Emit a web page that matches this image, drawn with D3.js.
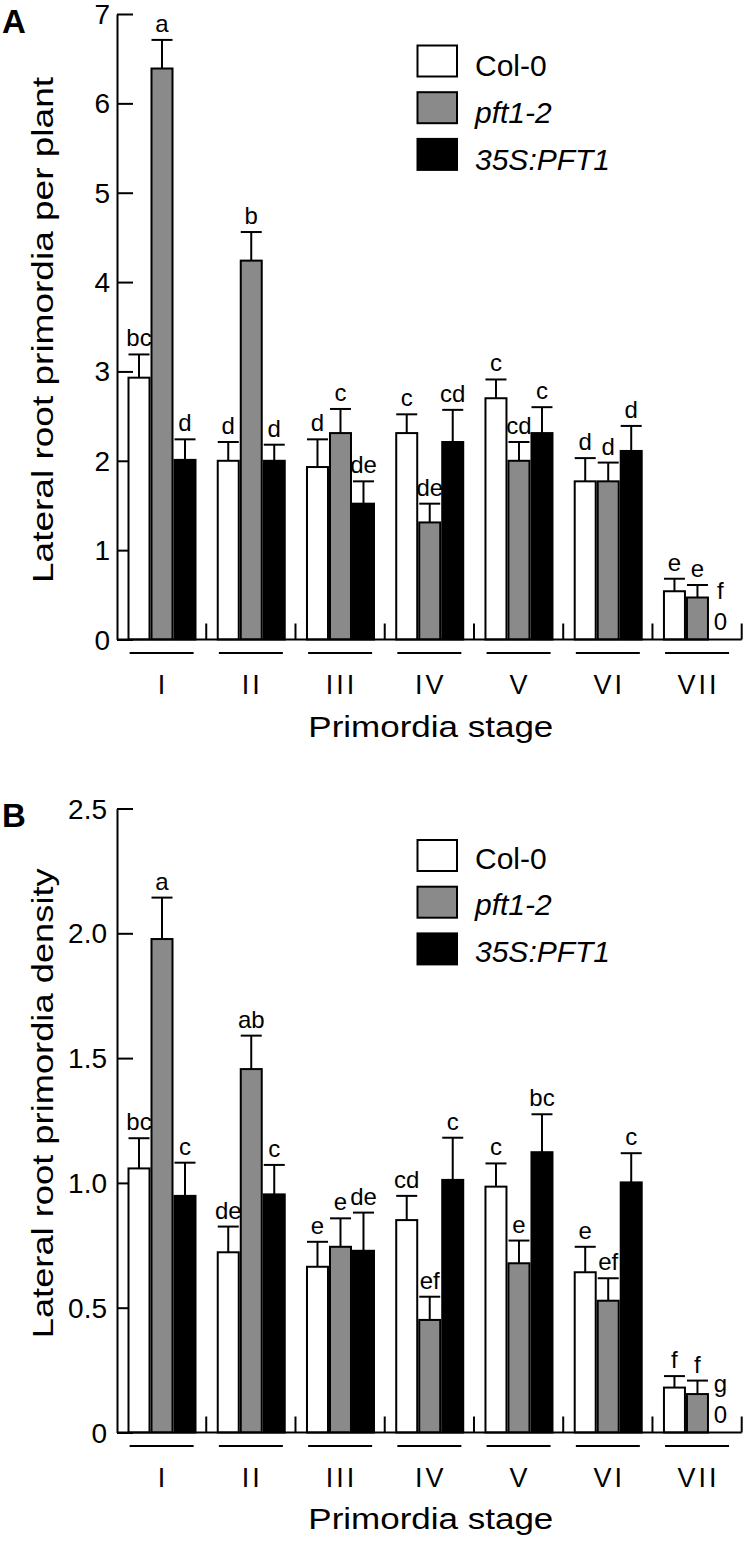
<!DOCTYPE html>
<html>
<head>
<meta charset="utf-8">
<script src="https://cdn.jsdelivr.net/npm/d3@7"></script>
<style>
  html, body { margin: 0; padding: 0; background: #fff; }
  svg { display: block; font-family: "Liberation Sans", Arial, Helvetica, sans-serif; }
</style>
</head>
<body>
<svg id="chart" width="747" height="1544"></svg>
<script>
// ---------- DATA ----------
const stages = ["I", "II", "III", "IV", "V", "VI", "VII"];
const series = ["Col-0", "pft1-2", "35S:PFT1"];

// Panel A: lateral root primordia per plant
const colA    = [2.93, 2.00, 1.93, 2.31, 2.70, 1.77, 0.54];
const pftA    = [6.39, 4.24, 2.31, 1.31, 2.00, 1.77, 0.47];
const ovxA    = [2.01, 2.00, 1.52, 2.21, 2.31, 2.11, 0];
const colErrA = [0.26, 0.21, 0.31, 0.21, 0.21, 0.26, 0.14];
const pftErrA = [0.32, 0.32, 0.27, 0.21, 0.21, 0.21, 0.14];
const ovxErrA = [0.23, 0.18, 0.25, 0.36, 0.29, 0.28, 0];
const colLetA = ["bc", "d", "d", "c", "c", "d", "e"];
const pftLetA = ["a", "b", "c", "de", "cd", "d", "e"];
const ovxLetA = ["d", "d", "de", "cd", "c", "d", "f"];
const ticksA  = [0, 1, 2, 3, 4, 5, 6, 7];

// Panel B: lateral root primordia density
const colB    = [1.058, 0.722, 0.664, 0.851, 0.985, 0.642, 0.180];
const pftB    = [1.977, 1.456, 0.744, 0.451, 0.678, 0.528, 0.154];
const ovxB    = [0.948, 0.954, 0.728, 1.012, 1.123, 1.002, 0];
const colErrB = [0.121, 0.103, 0.100, 0.097, 0.093, 0.102, 0.046];
const pftErrB = [0.166, 0.134, 0.114, 0.093, 0.091, 0.090, 0.054];
const ovxErrB = [0.133, 0.118, 0.153, 0.169, 0.152, 0.117, 0];
const colLetB = ["bc", "de", "e", "cd", "c", "e", "f"];
const pftLetB = ["a", "ab", "e", "ef", "e", "ef", "f"];
const ovxLetB = ["c", "c", "de", "c", "bc", "c", "g"];
const ticksB  = [0, 0.5, 1.0, 1.5, 2.0, 2.5];

const fills = ["#ffffff", "#8a8a8a", "#000000"];

// ---------- DRAW ----------
const svg = d3.select("#chart");
const FONT = '"Liberation Sans", Arial, Helvetica, sans-serif';

function panel(cfg) {
  const g = svg.append("g");
  const y = d3.scaleLinear().domain(cfg.domain).range([cfg.y0, cfg.yTop]);
  const x0 = d3.scaleBand().domain(stages).range([117, 741.7]).paddingInner(0).paddingOuter(0);
  const x1 = d3.scaleBand().domain(series).range([11.5, 78.5]).paddingInner(2 / 23).paddingOuter(0);

  // y axis (inward ticks)
  const yAxis = d3.axisLeft(y).tickValues(cfg.ticks).tickSizeInner(-16).tickSizeOuter(0)
    .tickPadding(cfg.tickPad).tickFormat(cfg.fmt);
  const ya = g.append("g").attr("transform", "translate(117,0)").call(yAxis);
  ya.select(".domain").attr("stroke", "#000").attr("stroke-width", 2);
  ya.selectAll(".tick line").attr("stroke", "#000").attr("stroke-width", 2);
  ya.selectAll(".tick text").attr("font-size", 28).attr("font-family", FONT).attr("fill", "#000")
    .attr("dy", "0.34em");

  // rows of data
  const rows = [];
  stages.forEach((s, i) => {
    cfg.vals.forEach((arr, k) => {
      rows.push({ stage: s, ser: series[k], k, v: arr[i], e: cfg.errs[k][i], lab: cfg.lets[k][i] });
    });
  });

  const bx = d => x0(d.stage) + x1(d.ser);
  const bw = x1.bandwidth();

  // bars
  g.selectAll("rect.bar").data(rows.filter(d => d.v > 0)).join("rect")
    .attr("class", "bar")
    .attr("x", bx).attr("width", bw)
    .attr("y", d => y(d.v)).attr("height", d => y(0) - y(d.v))
    .attr("fill", d => fills[d.k]).attr("stroke", "#000").attr("stroke-width", 2);

  // error bars
  const eb = rows.filter(d => d.v > 0);
  g.selectAll("line.ev").data(eb).join("line")
    .attr("x1", d => bx(d) + bw / 2).attr("x2", d => bx(d) + bw / 2)
    .attr("y1", d => y(d.v)).attr("y2", d => y(d.v + d.e))
    .attr("stroke", "#000").attr("stroke-width", 2);
  g.selectAll("line.ec").data(eb).join("line")
    .attr("x1", d => bx(d)).attr("x2", d => bx(d) + bw)
    .attr("y1", d => y(d.v + d.e)).attr("y2", d => y(d.v + d.e))
    .attr("stroke", "#000").attr("stroke-width", 2);

  // significance letters
  g.selectAll("text.sig").data(rows).join("text")
    .attr("x", d => bx(d) + bw / 2)
    .attr("y", d => d.v > 0 ? y(d.v + d.e) - 8 : y(0) - 41)
    .attr("text-anchor", "middle").attr("font-size", 24).attr("font-family", FONT)
    .text(d => d.lab);
  // zero value labels
  g.selectAll("text.zero").data(rows.filter(d => d.v === 0)).join("text")
    .attr("x", d => bx(d) + bw / 2).attr("y", y(0) - 10)
    .attr("text-anchor", "middle").attr("font-size", 24).attr("font-family", FONT)
    .text("0");

  // x axis baseline
  g.append("line").attr("x1", 117).attr("x2", 741.7).attr("y1", y(0)).attr("y2", y(0))
    .attr("stroke", "#000").attr("stroke-width", 2);
  // group separators (upward ticks)
  const seps = stages.slice(1).map(s => x0(s)).concat([x0.range()[1]]);
  g.selectAll("line.sep").data(seps).join("line")
    .attr("x1", d => d).attr("x2", d => d).attr("y1", y(0)).attr("y2", y(0) - 16)
    .attr("stroke", "#000").attr("stroke-width", 2);
  // group underlines
  g.selectAll("line.ul").data(stages).join("line")
    .attr("x1", s => x0(s) + x0.bandwidth() / 2 - 32).attr("x2", s => x0(s) + x0.bandwidth() / 2 + 32)
    .attr("y1", y(0) + 13.5).attr("y2", y(0) + 13.5)
    .attr("stroke", "#000").attr("stroke-width", 2);
  // stage labels
  g.selectAll("text.st").data(stages).join("text")
    .attr("x", s => x0(s) + x0.bandwidth() / 2 + 1.5).attr("y", y(0) + 54.5)
    .attr("text-anchor", "middle").attr("font-size", 27).attr("font-family", FONT)
    .attr("letter-spacing", 3)
    .text(s => s);
  // x title
  g.append("text").attr("x", 430.8).attr("y", cfg.y0 + cfg.xTitleDy)
    .attr("text-anchor", "middle").attr("font-size", 30).attr("font-family", FONT)
    .attr("textLength", 245).attr("lengthAdjust", "spacingAndGlyphs")
    .text("Primordia stage");
  // y title
  g.append("text").attr("transform", `translate(53.3,${cfg.yTitleCy}) rotate(-90)`)
    .attr("text-anchor", "middle").attr("font-size", 30).attr("font-family", FONT)
    .attr("textLength", cfg.yTitleLen).attr("lengthAdjust", "spacingAndGlyphs")
    .text(cfg.yTitle);
  // panel letter
  g.append("text").attr("x", 2).attr("y", cfg.labelY)
    .attr("font-size", 33).attr("font-weight", "bold").attr("font-family", FONT)
    .text(cfg.label);

  // legend
  const lg = g.append("g");
  series.forEach((s, k) => {
    const top = cfg.yTop + 31.5 + k * 46.7;
    lg.append("rect").attr("x", 417.5).attr("y", top).attr("width", 39.5).attr("height", 31)
      .attr("fill", fills[k]).attr("stroke", "#000").attr("stroke-width", 2);
    lg.append("text").attr("x", 475).attr("y", top + cfg.legTextDy)
      .attr("font-size", 30).attr("font-family", FONT)
      .attr("font-style", k === 0 ? "normal" : "italic")
      .text(s);
  });
}

panel({
  domain: [0, 7], y0: 639.5, yTop: 14, ticks: ticksA, fmt: d3.format("d"), tickPad: 7,
  vals: [colA, pftA, ovxA], errs: [colErrA, pftErrA, ovxErrA], lets: [colLetA, pftLetA, ovxLetA],
  xTitleDy: 97.2, yTitle: "Lateral root primordia per plant", yTitleCy: 330, yTitleLen: 506,
  label: "A", labelY: 33.3, legTextDy: 30.7
});
panel({
  domain: [0, 2.5], y0: 1432.5, yTop: 808.5, ticks: ticksB, fmt: d => d === 0 ? "0" : d3.format(".1f")(d), tickPad: 10,
  vals: [colB, pftB, ovxB], errs: [colErrB, pftErrB, ovxErrB], lets: [colLetB, pftLetB, ovxLetB],
  xTitleDy: 96.8, yTitle: "Lateral root primordia density", yTitleCy: 1103.3, yTitleLen: 470,
  label: "B", labelY: 826.7, legTextDy: 28.5
});
</script>
</body>
</html>
